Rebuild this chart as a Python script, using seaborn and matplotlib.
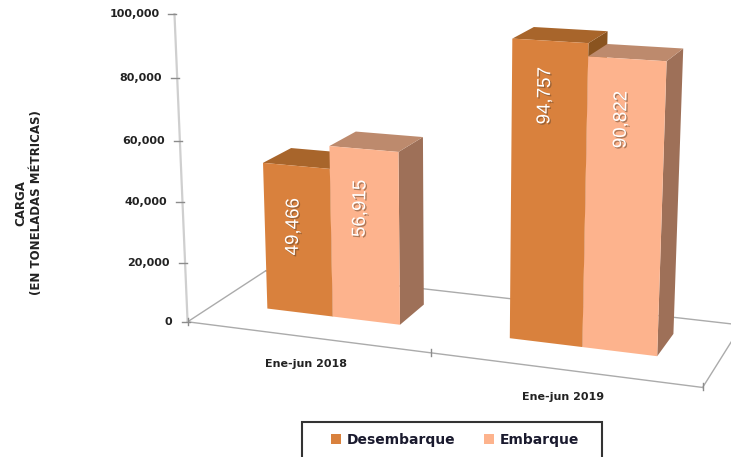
import numpy as np
import pandas as pd
import matplotlib
matplotlib.use('Agg')
import matplotlib.pyplot as plt
import seaborn as sns
from matplotlib.patches import Polygon, Rectangle
from matplotlib.transforms import Transform, IdentityTransform
import matplotlib.patheffects as pe

periods = ['Ene-jun 2018', 'Ene-jun 2019']
types = ['Desembarque', 'Embarque']
desembarque = [49466, 94757]
embarque = [56915, 90822]
y_ticks = [0, 20000, 40000, 60000, 80000, 100000]

# bars sit between these floor depths, 0 = front edge, 1 = back edge
Z0, Z1 = 0.36, 0.73
H = 457

# camera of the 3d chart: (category, depth, value/1e5, 1) -> image pixel
P = np.array([[2.270961e+02, 1.048488e+02, -2.178532e+01, 3.061129e+02],
              [1.315380e+01, -2.724970e+01, -3.165022e+02, 3.369203e+02],
              [-5.301117e-02, 9.279478e-02, -4.770393e-02, 1.000000e+00]])


def project(x, z, v):
    w = P @ np.array([x, z, v / 1e5, 1.0])
    return w[0] / w[2], H - w[1] / w[2]


class View(Transform):
    input_dims = 2
    output_dims = 2

    def __init__(self, z):
        super().__init__()
        self.z = z

    def transform_non_affine(self, xy):
        xy = np.asarray(xy, float)
        return np.array([project(px, self.z, py) for px, py in xy])


df = pd.DataFrame({
    'periodo': periods * 2,
    'tipo': [types[0]] * 2 + [types[1]] * 2,
    'carga': desembarque + embarque,
})
front_colors = {'Desembarque': '#D9813D', 'Embarque': '#FDB38D'}
top_colors = ['#A8652B', '#BD8A6D']
side_colors = ['#8A5420', '#9E7058']

fig = plt.figure(figsize=(7.31, 4.57), dpi=100)
ax = fig.add_axes([0, 0, 1, 1])
sns.barplot(data=df, x='periodo', y='carga', hue='tipo', palette=front_colors, width=0.56,
            saturation=1, legend=False, ax=ax)
ax.set_xlim(-.5, 1.5)
ax.axis('off')
display = IdentityTransform()


def line(p, q, **kw):
    ax.plot([p[0], q[0]], [p[1], q[1]], transform=display, clip_on=True, **kw)


# floor and value axis
floor = dict(color='#ABABAB', lw=1, zorder=1)
line(project(-.5, 0, 0), project(1.5, 0, 0), **floor)
line(project(-.5, 0, 0), project(-.5, 1, 0), **floor)
line(project(-.5, 1, 0), project(1.5, 1, 0), **floor)
line(project(1.5, 0, 0), project(1.5, 1, 0), **floor)
line(project(-.5, 0, 0), project(-.5, 0, 100000), color='#CFCFCF', lw=1.6, zorder=1)
for v in y_ticks:
    px, py = project(-.5, 0, v)
    line((px - 6, py), (px + 2, py), color='#8C8C8C', lw=1, zorder=1)
    ax.text(px - 15, py, f'{v:,}', transform=display, ha='right', va='center',
            fontsize=8, fontweight='bold', color='#222222')
for x in [-.5, .5, 1.5]:
    px, py = project(x, 0, 0)
    line((px, py - 3), (px, py + 4), color='#8C8C8C', lw=1, zorder=1)

# bars, back to front
bars = [p for p in ax.patches if p.get_height() > 0]
bars = sorted(bars, key=lambda p: p.get_x())
for order, bar in enumerate(bars):
    x0, w, v = bar.get_x(), bar.get_width(), bar.get_height()
    k = order % 2
    zo = 3 + order
    ax.add_patch(Polygon([project(x0 + w, Z0, 0), project(x0 + w, Z1, 0), project(x0 + w, Z1, v), project(x0 + w, Z0, v)],
                         closed=True, fc=side_colors[k], ec='none', transform=display, zorder=zo, clip_on=False))
    ax.add_patch(Polygon([project(x0, Z0, v), project(x0 + w, Z0, v), project(x0 + w, Z1, v), project(x0, Z1, v)],
                         closed=True, fc=top_colors[k], ec='none', transform=display, zorder=zo, clip_on=False))
    bar.set_transform(View(Z0))
    bar.set_clip_on(False)
    bar.set_zorder(zo + .5)

# value labels sit at hand-read fractions of each bar's height
label_frac = [.59, .66, .825, .8]
for bar, frac in zip(bars, label_frac):
    x0, w, v = bar.get_x(), bar.get_width(), bar.get_height()
    px, py = project(x0 + w / 2, Z0, v * frac)
    ax.text(px - 4, py, f'{v:,.0f}', transform=display, rotation=89, ha='center', va='center', fontsize=13.5,
            family='Liberation Sans', color='white', zorder=20,
            path_effects=[pe.withSimplePatchShadow(offset=(1, -1), shadow_rgbFace='#6B4A30', alpha=.55)])

# category labels
for i, name in enumerate(periods):
    px, py = project(i, 0, 0)
    ax.text(px, py - 27, name, transform=display, ha='center', va='center',
            fontsize=8, fontweight='bold', color='#222222')

fig.text(29 / 731, 1 - 203 / H, 'CARGA\n(EN TONELADAS MÉTRICAS)', rotation=90, ha='center', va='center',
         fontsize=8.5, fontweight='bold', color='#222222', linespacing=1.3)

# legend
fig.add_artist(Rectangle((302 / 731, -0.02), 300 / 731, 1 - 422 / H + 0.02, transform=fig.transFigure,
                         fc='white', ec='#333333', lw=1.5))
handles = [Rectangle((0, 0), 1, 1, fc=front_colors[t], ec='none') for t in types]
fig.legend(handles, types, ncol=2, frameon=False, loc='center', bbox_to_anchor=(455 / 731, 1 - 440 / H),
           handlelength=.72, handleheight=.72, handletextpad=.43, columnspacing=2,
           prop=dict(size=10, weight='bold'), labelcolor='#1A1A2E')

fig.savefig('out.png', dpi=100)
